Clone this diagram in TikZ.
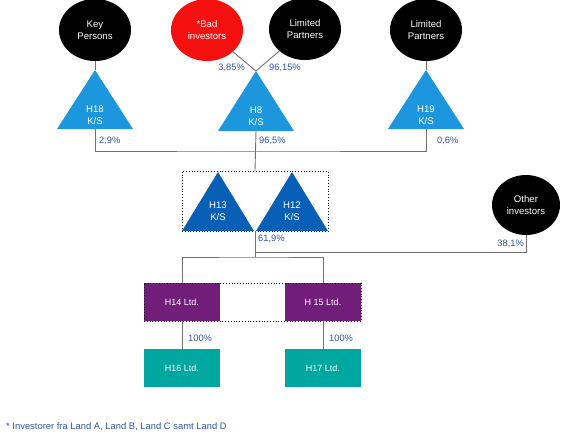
\documentclass[tikz,border=0pt]{standalone}
\usepackage{fontspec}
\setmainfont{Liberation Sans}
\usetikzlibrary{shapes.geometric}
\definecolor{ltblue}{RGB}{28,150,220}
\definecolor{dkblue}{RGB}{8,96,182}
\definecolor{redc}{RGB}{245,16,16}
\definecolor{purp}{RGB}{112,30,122}
\definecolor{tealc}{RGB}{0,166,160}
\definecolor{pct}{RGB}{46,84,164}
\definecolor{linec}{RGB}{112,112,112}
\newcommand\mytri[6]{%
  \fill[#6] (#2,#3) -- ({#2+#5},#4) -- ({#2-#5},#4) -- cycle;
  \coordinate (#1a) at (#2,#3);
  \coordinate (#1b) at (#2,#4);}
\begin{document}
\begin{tikzpicture}[x=1pt,y=-1pt,
  ell/.style={ellipse, fill=black, text=white, minimum width=72pt, minimum height=62pt, inner sep=0pt, align=center, font=\fontsize{9.6}{11.5}\selectfont},
  trilbl/.style={text=white, align=center, inner sep=0pt, font=\fontsize{9.6}{11.5}\selectfont},
  box/.style={minimum width=76pt, minimum height=38pt, inner sep=0pt, text=white, font=\fontsize{9}{11}\selectfont},
  grp/.style={draw=black, dotted, line width=0.8pt, inner sep=0pt},
  pctl/.style={text=pct, inner sep=0pt, font=\fontsize{9.3}{11}\selectfont},
  conn/.style={draw=linec, line width=0.9pt}]
\useasboundingbox (0,0) rectangle (563,439);
% ellipses
\node[ell] (kp) at (95,30) {Key\\Persons};
\node[ell, fill=redc] (bad) at (207,30) {*Bad\\investors};
\node[ell] (lp1) at (305,29) {Limited\\Partners};
\node[ell] (lp2) at (426,30) {Limited\\Partners};
\node[ell, minimum width=68pt, minimum height=60pt] (oth) at (526,205) {Other\\investors};
% triangles
\mytri{h18}{95}{70}{129}{38}{ltblue}
\mytri{h8}{256}{71}{131}{38}{ltblue}
\mytri{h19}{426}{70}{129}{38}{ltblue}
\mytri{h13}{218}{172}{231}{36}{dkblue}
\mytri{h12}{292}{172}{231}{36}{dkblue}
\node[trilbl] (h18) at (95,115) {H18\\K/S};
\node[trilbl] (h8) at (256,116) {H8\\K/S};
\node[trilbl] (h19) at (426,115) {H19\\K/S};
\node[trilbl] (h13) at (218,211) {H13\\K/S};
\node[trilbl] (h12) at (292,211) {H12\\K/S};
% boxes
\node[box, fill=purp] (h14) at (182,302) {H14 Ltd.};
\node[box, fill=purp] (h15) at (323,302) {H 15 Ltd.};
\node[box, fill=tealc] (h16) at (182,368) {H16 Ltd.};
\node[box, fill=tealc] (h17) at (323,368) {H17 Ltd.};
% groups
\node[grp, minimum width=146pt, minimum height=60pt] (g1) at (255,201) {};
\node[grp, minimum width=217pt, minimum height=38pt] (g2) at (252.5,302) {};
% connectors
\coordinate (bus1) at (256,151);
\coordinate (j1) at (255,252);
\coordinate (bus2) at (255,257);
\draw[conn] (kp) -- (h18a);
\draw[conn] (lp2) -- (h19a);
\draw[conn] (bad) -- (h8a);
\draw[conn] (lp1) -- (h8a);
\draw[conn] (h18b) |- (bus1) -| (h19b);
\draw[conn] (h8b) -- (g1.north);
\draw[conn] (g1.south) -- (bus2);
\draw[conn] (j1) -| (oth.south);
\draw[conn] (h14.north) |- (bus2) -| (h15.north);
\draw[conn] (h14) -- (h16);
\draw[conn] (h15) -- (h17);
% labels
\node[pctl, anchor=west] (p29) at (99,141) {2,9\%};
\node[pctl, anchor=west] (p965) at (259,141) {96,5\%};
\node[pctl, anchor=west] (p06) at (437,141) {0,6\%};
\node[pctl, anchor=east] (p385) at (245,68) {3,85\%};
\node[pctl, anchor=west] (p9615) at (269,68) {96,15\%};
\node[pctl, anchor=west] (p619) at (258,239) {61,9\%};
\node[pctl, anchor=east] (p381) at (524,244) {38,1\%};
\node[pctl, anchor=west] (p100a) at (188,338) {100\%};
\node[pctl, anchor=west] (p100b) at (329,338) {100\%};
\node[pctl, anchor=west, font=\fontsize{9.4}{11}\selectfont] (foot) at (6,427) {* Investorer fra Land A, Land B, Land C samt Land D};
\end{tikzpicture}
\end{document}
